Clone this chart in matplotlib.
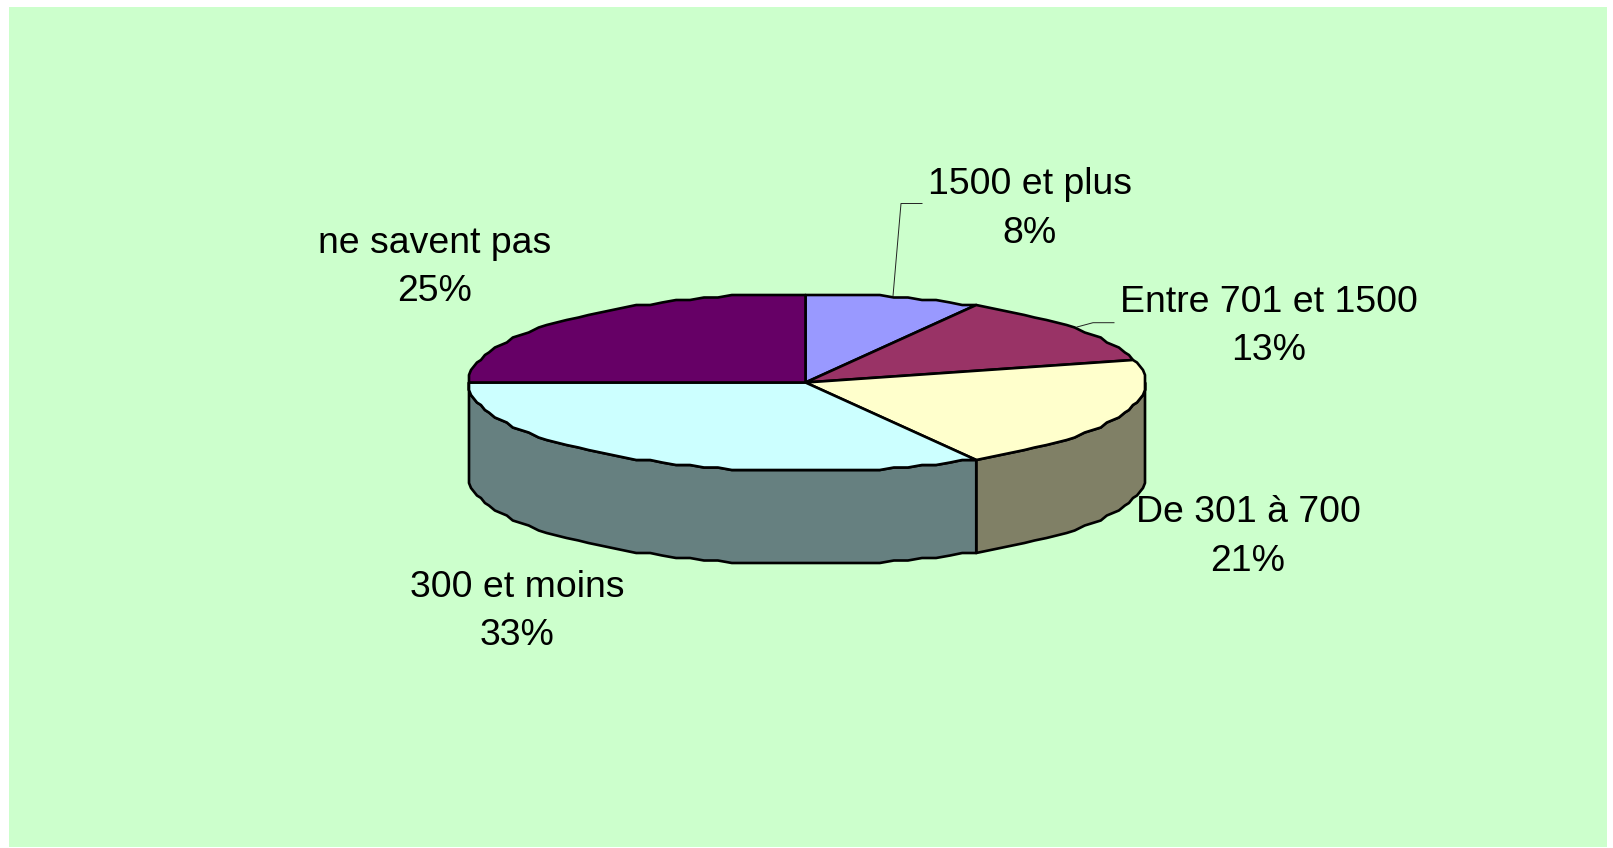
import numpy as np
import matplotlib
matplotlib.use("Agg")
import matplotlib.pyplot as plt
from matplotlib.patches import Polygon, Rectangle

# Data (answers out of 24, clockwise from the top)
categories = ["1500 et plus", "Entre 701 et 1500", "De 301 à 700", "300 et moins", "ne savent pas"]
counts = [2, 3, 5, 8, 6]
percent_labels = ["8%", "13%", "21%", "33%", "25%"]

top_colors = ["#9999FF", "#993366", "#FFFFCC", "#CCFFFF", "#660066"]
side_colors = ["#4D4D80", "#4D1A33", "#808066", "#668080", "#330033"]

W, H = 1613, 848
CX, CY, RX, RY, DEPTH = 805.5, 382.5, 338.5, 88.5, 93.0
RIM_SHIFT = 1.5
EDGE = 1.9

plt.rcParams["font.family"] = ["Liberation Sans", "DejaVu Sans"]
fig = plt.figure(figsize=(W / 100, H / 100), dpi=100, facecolor="white")
ax = fig.add_axes([0, 0, 1, 1])
ax.set_xlim(0, W)
ax.set_ylim(H, 0)
ax.axis("off")
ax.add_patch(Rectangle((9, 7), 1598, 840, facecolor="#CCFFCC", edgecolor="none", zorder=0))


def rim(deg, dy=0.0):
    """Point(s) of the rim, angle clockwise from the top, with the coarse stepped outline."""
    t = np.radians(deg)
    dx_ = RX * np.sin(t)
    dy_ = -RY * np.cos(t)
    x = CX + RIM_SHIFT * np.abs(np.sin(t)) + np.round(dx_ / 2.0) * 2.0
    y = CY + np.round(dy_ / 2.5) * 2.5
    return x, y + dy


def arc(a, b):
    step = 2.5
    grid = np.arange(np.ceil(a / step) * step, b, step)
    return np.concatenate([[a], grid[grid > a], [b]])


edges = np.cumsum([0] + counts) / sum(counts) * 360.0

# Side wall: only the front half of the rim is visible
for i in range(len(counts)):
    a, b = max(edges[i], 90.0), min(edges[i + 1], 270.0)
    if b <= a:
        continue
    ts = arc(a, b)
    xt, yt = rim(ts)
    xb, yb = rim(ts, DEPTH)
    pts = np.column_stack([np.r_[xt, xb[::-1]], np.r_[yt, yb[::-1]]])
    ax.add_patch(Polygon(pts, closed=True, facecolor=side_colors[i], edgecolor="black",
                         linewidth=EDGE, joinstyle="round", zorder=2))

# Top face
for i in range(len(counts)):
    ts = arc(edges[i], edges[i + 1])
    xt, yt = rim(ts)
    pts = np.column_stack([np.r_[CX, xt], np.r_[CY, yt]])
    ax.add_patch(Polygon(pts, closed=True, facecolor=top_colors[i], edgecolor="black",
                         linewidth=EDGE, joinstyle="round", zorder=3))

# Leader lines
ax.plot([893, 901, 922], [296, 203.5, 203.5], color="#222222", lw=0.7, zorder=4)
ax.plot([1077, 1093, 1114], [327, 322.7, 322.7], color="#222222", lw=0.7, zorder=4)

# Labels
label_pos = [(1030, 209), (1269, 326.5), (1248, 537), (517, 611.5), (435, 267.5)]
for name, pct, (x, y) in zip(categories, percent_labels, label_pos):
    ax.text(x, y, f"{name}\n{pct}", ha="center", va="center", fontsize=26.9,
            linespacing=1.5, color="black", zorder=5)

fig.savefig("out.png", dpi=100, facecolor="white")
